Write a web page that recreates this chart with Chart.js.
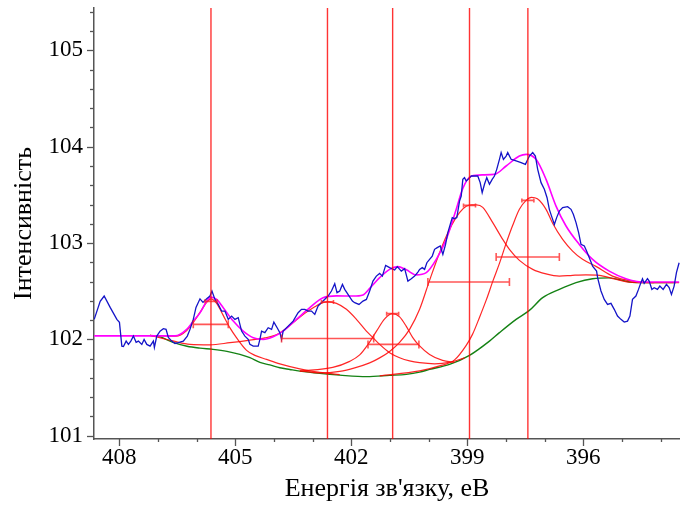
<!DOCTYPE html>
<html><head><meta charset="utf-8">
<script src="https://cdn.jsdelivr.net/npm/chart.js@4/dist/chart.umd.min.js"></script>
<style>html,body{margin:0;padding:0;background:#fff}</style>
</head><body>
<canvas id="c" width="680" height="506" style="display:block;width:680px;height:506px"></canvas>
<script>
// ---- axis labels ----
const xTitle = "Енергія зв'язку, еВ";
const yTitle = "Інтенсивність";
const xLabelTicks = [408, 405, 402, 399, 396];
const yLabelTicks = [101, 102, 103, 104, 105];

// ---- measured spectrum (blue) ----
const rawE = [408.645,408.490,408.387,408.232,408.059,407.992,407.930,407.889,407.819,407.760,407.698,407.631,407.561,407.502,407.414,407.355,407.285,407.200,407.115,407.089,407.027,406.942,406.857,406.787,406.728,406.640,406.555,406.470,406.341,406.238,406.168,406.083,406.013,405.910,405.832,405.737,405.652,405.600,405.523,405.438,405.350,405.265,405.179,405.092,405.007,404.921,404.878,404.834,404.748,404.663,404.619,404.534,404.405,404.361,404.318,404.232,404.147,404.059,404.000,403.915,403.845,403.801,403.760,403.631,403.502,403.373,403.285,403.200,403.115,403.027,402.942,402.857,402.728,402.599,402.511,402.426,402.367,402.297,402.227,402.168,402.083,401.969,401.910,401.799,401.696,401.608,401.523,401.438,401.350,401.265,401.195,401.110,401.007,400.878,400.808,400.705,400.619,400.534,400.447,400.361,400.276,400.232,400.163,400.103,400.044,399.974,399.905,399.845,399.776,399.698,399.631,399.561,399.502,399.440,399.388,399.329,399.270,399.200,399.156,399.115,399.071,399.027,398.960,398.898,398.813,398.728,398.666,398.614,398.555,398.496,398.426,398.356,398.297,398.238,398.168,398.124,398.065,397.995,397.954,397.866,397.737,397.608,397.497,397.394,397.308,397.239,397.179,397.092,397.007,396.937,396.878,396.808,396.748,396.689,396.619,396.534,396.405,396.318,396.258,396.188,396.121,396.059,395.974,395.915,395.845,395.760,395.657,395.626,395.543,395.458,395.373,395.285,395.200,395.115,395.027,394.942,394.857,394.795,394.728,394.640,394.573,394.511,394.470,394.426,394.341,394.297,394.227,394.168,394.083,394.021,393.936,393.850,393.781,393.721,393.652,393.592,393.523];
const rawI = [102.208,102.395,102.450,102.332,102.208,102.177,101.930,101.927,101.982,101.948,101.982,102.034,101.969,101.982,101.948,102.000,101.948,101.930,101.982,101.917,102.034,102.086,102.111,102.104,102.021,101.982,101.958,101.966,101.982,102.034,102.104,102.208,102.332,102.421,102.384,102.421,102.450,102.502,102.415,102.363,102.294,102.294,102.208,102.242,102.208,102.225,102.156,102.086,102.034,102.000,101.948,101.930,101.930,102.000,102.086,102.070,102.121,102.104,102.180,102.121,102.070,102.000,102.086,102.138,102.190,102.277,102.312,102.312,102.294,102.294,102.260,102.346,102.398,102.450,102.502,102.578,102.485,102.502,102.571,102.519,102.467,102.398,102.381,102.363,102.398,102.415,102.502,102.605,102.657,102.685,102.657,102.768,102.745,102.720,102.755,102.709,102.734,102.605,102.630,102.657,102.699,102.727,102.745,102.727,102.796,102.831,102.865,102.935,102.952,102.969,102.883,102.986,103.108,103.194,103.264,103.253,103.264,103.436,103.488,103.661,103.679,103.644,103.669,103.696,103.696,103.696,103.627,103.523,103.610,103.679,103.610,103.661,103.696,103.765,103.869,103.939,103.869,103.903,103.939,103.869,103.852,103.835,103.817,103.903,103.939,103.903,103.765,103.627,103.558,103.471,103.350,103.264,103.194,103.264,103.332,103.368,103.378,103.350,103.298,103.212,103.108,102.986,102.969,102.917,102.848,102.761,102.709,102.633,102.502,102.415,102.363,102.374,102.312,102.242,102.208,102.180,102.190,102.242,102.415,102.450,102.519,102.589,102.630,102.582,102.630,102.605,102.519,102.537,102.519,102.553,102.519,102.571,102.537,102.467,102.553,102.693,102.796];

// ---- fit envelope (magenta) ----
const envE = [408.645,406.555,406.253,406.083,405.910,405.737,405.626,405.479,405.309,405.050,404.793,404.534,404.276,404.018,403.760,403.415,403.071,402.728,402.382,401.954,401.696,401.523,401.265,401.007,400.800,400.576,400.318,400.060,399.801,399.543,399.285,399.115,398.898,398.599,398.297,397.995,397.652,397.479,397.221,396.963,396.705,396.447,396.104,395.760,395.329,394.898,394.470,393.523];
const envI = [102.036,102.036,102.104,102.190,102.275,102.395,102.439,102.415,102.329,102.190,102.086,102.018,102.000,102.028,102.086,102.208,102.329,102.433,102.452,102.450,102.462,102.530,102.641,102.727,102.755,102.722,102.670,102.693,102.831,103.038,103.350,103.568,103.693,103.708,103.713,103.800,103.903,103.921,103.869,103.661,103.384,103.177,102.986,102.831,102.709,102.630,102.595,102.595];

// ---- background (green) ----
const bgE = [407.200,406.942,406.607,406.245,405.910,405.574,405.213,404.878,404.619,404.361,404.103,403.845,403.587,403.329,402.813,402.297,401.600,401.007,400.576,400.232,399.974,399.458,398.942,398.426,398.168,397.737,397.394,397.050,396.619,396.188,395.760,395.329,394.994,394.736,394.124,393.608];
const bgI = [102.042,102.026,101.969,101.929,101.909,101.896,101.875,101.844,101.810,101.761,101.735,101.706,101.688,101.671,101.647,101.629,101.613,101.626,101.637,101.660,101.688,101.740,101.834,101.982,102.070,102.208,102.301,102.433,102.519,102.589,102.630,102.639,102.613,102.592,102.589,102.589];

// ---- fitted components (red) ----
const c1E = [407.200,406.529,406.253,406.083,405.910,405.737,405.626,405.479,405.309,405.135,404.963,404.705,404.490,404.189,403.845,403.329,402.813,402.297];
const c1I = [102.042,102.033,102.093,102.177,102.280,102.384,102.421,102.374,102.249,102.119,102.016,101.886,101.834,101.792,101.746,101.694,101.657,101.634];
const c2E = [407.200,406.607,406.168,405.652,405.135,404.619,404.232,403.974,403.716,403.458,403.200,402.942,402.787,402.607,402.382,402.124,401.866,401.608,401.438,401.265,401.007,400.749,400.491,400.232,399.845,399.458,399.071];
const c2I = [102.042,101.984,101.948,101.943,101.966,101.993,102.016,102.042,102.104,102.187,102.270,102.338,102.374,102.391,102.374,102.312,102.208,102.086,102.018,101.948,101.862,101.810,101.777,101.758,101.746,101.761,101.808];
const c3E = [403.329,402.478,402.039,401.781,401.574,401.350,401.135,400.937,400.749,400.576,400.413,400.258,399.974,399.639,399.329];
const c3I = [101.671,101.709,101.772,101.839,101.943,102.083,102.213,102.267,102.234,102.135,102.021,101.943,101.844,101.782,101.761];
const c4E = [403.329,402.813,402.297,401.910,401.523,401.265,401.007,400.749,400.491,400.232,399.974,399.716,399.458,399.200,399.027,398.890,398.761,398.599,398.341,398.083,397.910,397.652,397.308,396.963,396.619,396.277,395.931,395.587,395.200,394.736,394.168];
const c4I = [101.673,101.652,101.668,101.704,101.756,101.808,101.875,101.969,102.104,102.312,102.613,102.900,103.142,103.316,103.381,103.397,103.397,103.371,103.212,103.038,102.935,102.820,102.727,102.680,102.657,102.665,102.670,102.665,102.628,102.592,102.589];
const c5E = [401.265,400.232,399.716,399.329,399.027,398.865,398.684,398.503,398.341,398.168,397.995,397.825,397.652,397.479,397.342,397.188,396.963,396.793,396.534,396.277,396.019,395.673,395.245,394.728,394.212,393.523];
const c5I = [101.621,101.673,101.725,101.787,101.938,102.052,102.228,102.415,102.602,102.789,102.997,103.184,103.350,103.443,103.475,103.459,103.350,103.205,103.038,102.917,102.831,102.758,102.657,102.605,102.589,102.589];

// ---- peak markers ----
const peakCenters = [405.626, 402.614, 400.929, 398.942, 397.433];
const peakTops    = [102.395, 102.387, 102.267, 103.391, 103.443];
const fwhmY       = [102.156, 102.010, 101.948, 102.595, 102.855];
const fwhmLeft    = [406.083, 403.801, 401.566, 400.018, 398.253];
const fwhmRight   = [405.179, 401.419, 400.250, 397.910, 396.619];

const serif = "'Liberation Serif','Times New Roman',Times,serif";
const pts = (E, I) => E.map((e, i) => ({x: e, y: I[i]}));

const red = 'rgba(255,0,0,0.85)';
function comp(E, I, ord) {
  return {data: pts(E, I), borderColor: red, borderWidth: 1.2, pointRadius: 0,
          cubicInterpolationMode: 'monotone', fill: false, order: ord};
}

const markerPlugin = {
  id: 'markers',
  afterDatasetsDraw(chart) {
    const {ctx, chartArea: a, scales: {x, y}} = chart;
    ctx.save();
    ctx.strokeStyle = 'rgba(255,0,0,0.8)';
    ctx.lineWidth = 1.4;
    peakCenters.forEach(e => {
      const px = x.getPixelForValue(e);
      ctx.beginPath(); ctx.moveTo(px, a.top); ctx.lineTo(px, a.bottom); ctx.stroke();
    });
    ctx.strokeStyle = 'rgba(255,30,30,0.75)';
    ctx.lineWidth = 1.6;
    fwhmY.forEach((v, i) => {
      const py = y.getPixelForValue(v);
      const l = x.getPixelForValue(fwhmLeft[i]), r = x.getPixelForValue(fwhmRight[i]);
      ctx.beginPath();
      ctx.moveTo(l, py); ctx.lineTo(r, py);
      ctx.moveTo(l, py - 4); ctx.lineTo(l, py + 4);
      ctx.moveTo(r, py - 4); ctx.lineTo(r, py + 4);
      ctx.stroke();
      const cx = x.getPixelForValue(peakCenters[i]), cy = y.getPixelForValue(peakTops[i]);
      ctx.beginPath();
      ctx.moveTo(cx - 6, cy); ctx.lineTo(cx + 6, cy);
      ctx.moveTo(cx - 6, cy - 2); ctx.lineTo(cx - 6, cy + 2);
      ctx.moveTo(cx + 6, cy - 2); ctx.lineTo(cx + 6, cy + 2);
      ctx.stroke();
    });
    ctx.restore();
  },
  afterDraw(chart) {
    const {ctx, scales: {x, y}} = chart;
    ctx.save();
    ctx.strokeStyle = '#555';
    ctx.lineWidth = 1.3;
    y.ticks.forEach(t => {
      const py = Math.round(y.getPixelForValue(t.value)) + 0.5;
      const major = yLabelTicks.some(v => Math.abs(v - t.value) < 1e-6);
      const len = major ? 7 : 4;
      ctx.beginPath(); ctx.moveTo(y.right - len, py); ctx.lineTo(y.right, py); ctx.stroke();
    });
    x.ticks.forEach(t => {
      const px = Math.round(x.getPixelForValue(t.value)) + 0.5;
      const major = xLabelTicks.some(v => Math.abs(v - t.value) < 1e-6);
      const len = major ? 7 : 3;
      ctx.beginPath(); ctx.moveTo(px, x.top); ctx.lineTo(px, x.top + len); ctx.stroke();
    });
    ctx.restore();
  }
};

new Chart(document.getElementById('c'), {
  type: 'line',
  data: {
    datasets: [
      {data: pts(rawE, rawI), borderColor: 'rgb(20,20,200)', borderWidth: 1.3, pointRadius: 0, tension: 0, order: 1},
      {data: pts(envE, envI), borderColor: '#ff00ff', borderWidth: 1.6, pointRadius: 0, cubicInterpolationMode: 'monotone', order: 2},
      comp(c1E, c1I, 3), comp(c2E, c2I, 4), comp(c3E, c3I, 5), comp(c4E, c4I, 6), comp(c5E, c5I, 7),
      {data: pts(bgE, bgI), borderColor: 'rgb(20,130,20)', borderWidth: 1.4, pointRadius: 0, cubicInterpolationMode: 'monotone', order: 8}
    ]
  },
  options: {
    responsive: false,
    animation: false,
    devicePixelRatio: 1,
    parsing: false,
    layout: {padding: {top: 8, right: 0, left: 0, bottom: 0}},
    plugins: {legend: {display: false}, tooltip: {enabled: false}},
    scales: {
      x: {
        type: 'linear', reverse: true, min: 393.5, max: 408.65,
        afterFit(s) { s.height = 67; s.paddingLeft = 0; s.paddingRight = 0; },
        grid: {display: false, drawTicks: false},
        border: {display: true, color: '#555', width: 1.5},
        ticks: {stepSize: 1, includeBounds: false, autoSkip: false, maxRotation: 0, padding: 5,
                color: '#000', font: {family: serif, size: 23},
                callback: v => xLabelTicks.some(t => Math.abs(t - v) < 1e-6) ? String(Math.round(v)) : ''},
        title: {display: true, text: xTitle, color: '#000', font: {family: serif, size: 26}, padding: {top: 0, bottom: 1}}
      },
      y: {
        type: 'linear', min: 100.966, max: 105.44,
        afterFit(s) { s.width = 94; s.paddingTop = 0; s.paddingBottom = 0; },
        grid: {display: false, drawTicks: false},
        border: {display: true, color: '#555', width: 1.5},
        ticks: {stepSize: 0.2, includeBounds: false, autoSkip: false, padding: 11,
                color: '#000', font: {family: serif, size: 23},
                callback: v => yLabelTicks.some(t => Math.abs(t - v) < 1e-6) ? String(Math.round(v)) : ''},
        title: {display: true, text: yTitle, color: '#000', font: {family: serif, size: 26}, padding: {top: 9, bottom: 0}}
      }
    }
  },
  plugins: [markerPlugin]
});
</script>
</body></html>
